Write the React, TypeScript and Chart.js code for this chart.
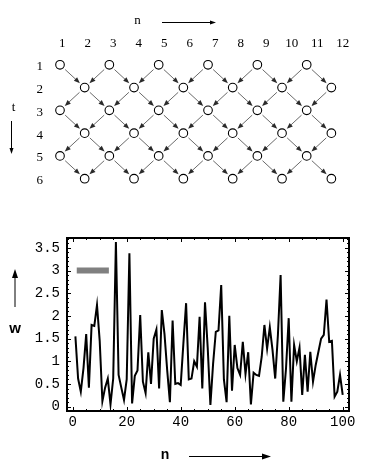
import React, { useEffect, useRef } from "react";
import { Chart, registerables } from "chart.js";

Chart.register(...registerables);

// ---------- Top lattice diagram data ----------
const colLabels = [1, 2, 3, 4, 5, 6, 7, 8, 9, 10, 11, 12];
const rowLabels = [1, 2, 3, 4, 5, 6];
// columns occupied by a node in each row t = 1..6
const latticeRows: number[][] = [
  [1, 3, 5, 7, 9, 11],
  [2, 4, 6, 8, 10, 12],
  [1, 3, 5, 7, 9, 11],
  [2, 4, 6, 8, 10, 12],
  [1, 3, 5, 7, 9, 11],
  [2, 4, 6, 8, 10, 12],
];

// ---------- Bottom series data ----------
const startN = 1;
const wValues = [
  1.55, 0.62, 0.33, 0.85, 1.6, 0.42, 1.8, 1.78, 2.24, 1.45,
  0.12, 0.42, 0.62, 0.05, 0.62, 3.63, 0.7, 0.42, 0.15, 0.6,
  3.38, 0.07, 0.68, 0.8, 2.02, 0.55, 0.3, 1.2, 0.5, 1.5,
  1.7, 0.4, 2.13, 1.6, 0.8, 0.1, 1.9, 0.5, 0.52, 0.48,
  1.4, 2.28, 0.6, 0.62, 1.0, 0.88, 1.98, 0.4, 2.3, 1.3,
  0.04, 0.95, 1.65, 1.68, 2.68, 0.6, 0.1, 2.0, 0.35, 1.36,
  0.85, 0.7, 1.43, 0.72, 1.2, 0.05, 0.75, 0.7, 0.68, 1.1,
  1.8, 1.28, 1.75, 1.25, 0.62, 1.58, 2.9, 0.11, 0.84, 1.95,
  0.11, 1.36, 1.0, 1.3, 0.26, 1.14, 0.33, 1.21, 0.55, 0.92,
  1.21, 1.5, 1.58, 2.36, 1.43, 1.45, 0.22, 0.33, 0.7, 0.26,
];
const xTicks = [0, 20, 40, 60, 80, 100];
const yTicks = [0, 0.5, 1, 1.5, 2, 2.5, 3, 3.5];
const barX = [1.5, 13.4];
const barY = [3, 3];

function drawArrow(
  ctx: CanvasRenderingContext2D,
  x1: number, y1: number, x2: number, y2: number,
  headLen: number, headW: number, lineColor: string, headColor: string, lineWidth: number
) {
  const ang = Math.atan2(y2 - y1, x2 - x1);
  const c = Math.cos(ang), s = Math.sin(ang);
  const bx = x2 - headLen * c, by = y2 - headLen * s;
  ctx.strokeStyle = lineColor;
  ctx.lineWidth = lineWidth;
  ctx.beginPath();
  ctx.moveTo(x1, y1);
  ctx.lineTo(bx + c * 1, by + s * 1);
  ctx.stroke();
  ctx.fillStyle = headColor;
  ctx.beginPath();
  ctx.moveTo(x2, y2);
  ctx.lineTo(bx + headW * s, by - headW * c);
  ctx.lineTo(bx - headW * s, by + headW * c);
  ctx.closePath();
  ctx.fill();
}

const TOP_W = 385, TOP_H = 205;
const BOT_W = 385, BOT_H = 259;

export default function App() {
  const topRef = useRef<HTMLCanvasElement>(null);
  const botRef = useRef<HTMLCanvasElement>(null);

  useEffect(() => {
    const nodes = latticeRows.flatMap((cols, ri) => cols.map((c) => ({ x: c, y: rowLabels[ri] })));
    const edges: { from: { x: number; y: number }; to: { x: number; y: number } }[] = [];
    nodes.forEach((a) => {
      nodes.forEach((b) => {
        if (b.y === a.y + 1 && Math.abs(b.x - a.x) === 1) edges.push({ from: a, to: b });
      });
    });

    const edgePlugin = {
      id: "edges",
      beforeDatasetsDraw(chart: any) {
        const ctx = chart.ctx as CanvasRenderingContext2D;
        const xs = chart.scales.x, ys = chart.scales.y;
        ctx.save();
        edges.forEach((e) => {
          const x1 = xs.getPixelForValue(e.from.x), y1 = ys.getPixelForValue(e.from.y);
          const x2 = xs.getPixelForValue(e.to.x), y2 = ys.getPixelForValue(e.to.y);
          const d = Math.hypot(x2 - x1, y2 - y1);
          const ux = (x2 - x1) / d, uy = (y2 - y1) / d;
          drawArrow(ctx, x1 + ux * 7, y1 + uy * 7, x2 - ux * 6.5, y2 - uy * 6.5, 6, 2.4, "#6a6a6a", "#2a2a2a", 1);
        });
        ctx.restore();
      },
      afterDraw(chart: any) {
        const ctx = chart.ctx as CanvasRenderingContext2D;
        ctx.save();
        ctx.fillStyle = "#000";
        ctx.font = "13px 'Liberation Serif'";
        ctx.textAlign = "center";
        ctx.textBaseline = "middle";
        ctx.fillText("n", 137.5, 21);
        ctx.fillText("t", 13.5, 108);
        drawArrow(ctx, 162, 22.5, 216, 22.5, 6, 2, "#000", "#000", 1);
        drawArrow(ctx, 11.5, 121, 11.5, 154, 6, 2, "#000", "#000", 1);
        ctx.restore();
      },
    };

    const serif = { family: "'Liberation Serif', serif", size: 13 };

    const top = new Chart(topRef.current!, {
      type: "scatter",
      data: {
        datasets: [
          {
            data: nodes,
            pointRadius: 4.3,
            pointHoverRadius: 4.3,
            pointBackgroundColor: "#ffffff",
            pointBorderColor: "#000000",
            pointBorderWidth: 1.1,
            showLine: false,
          },
        ],
      },
      options: {
        animation: false,
        responsive: false,
        events: [],
        layout: { padding: { left: 0, top: 0, right: 15, bottom: 5 } },
        plugins: { legend: { display: false }, tooltip: { enabled: false } },
        scales: {
          x: { type: "linear", display: false, min: 0.5946, max: 13.566 },
          xt: {
            type: "linear",
            axis: "x",
            position: "top",
            min: 0.517,
            max: 13.071,
            grid: { display: false, drawTicks: false },
            border: { display: false },
            ticks: { font: serif, color: "#000", padding: 1, maxRotation: 0, autoSkip: false, callback: (v: any) => String(v) },
            afterBuildTicks: (s: any) => { s.ticks = colLabels.map((v) => ({ value: v })); },
            afterFit: (s: any) => { s.height = 52; },
          },
          y: {
            type: "linear",
            position: "left",
            reverse: true,
            min: 0.4385,
            max: 6.504,
            grid: { display: false, drawTicks: false },
            border: { display: false },
            ticks: { font: serif, color: "#000", padding: 7, labelOffset: 2, autoSkip: false, callback: (v: any) => String(v) },
            afterBuildTicks: (s: any) => { s.ticks = rowLabels.map((v) => ({ value: v })); },
            afterFit: (s: any) => { s.width = 50; },
          },
        },
      } as any,
      plugins: [edgePlugin],
    });

    const framePlugin = {
      id: "frame",
      afterDatasetsDraw(chart: any) {
        const ctx = chart.ctx as CanvasRenderingContext2D;
        const a = chart.chartArea;
        const xs = chart.scales.x, ys = chart.scales.y;
        ctx.save();
        ctx.strokeStyle = "#000";
        ctx.lineWidth = 1;
        // minor / major ticks inside frame
        for (let v = 0; v <= 100; v += 5) {
          const px = Math.round(xs.getPixelForValue(v)) + 0.5;
          const len = v % 20 === 0 ? 4 : 2;
          ctx.beginPath();
          ctx.moveTo(px, a.bottom); ctx.lineTo(px, a.bottom - len);
          ctx.moveTo(px, a.top); ctx.lineTo(px, a.top + len);
          ctx.stroke();
        }
        for (let k = 0; k <= 37; k++) {
          const v = k / 10;
          const py = Math.round(ys.getPixelForValue(v)) + 0.5;
          const len = k % 5 === 0 ? 4 : 2;
          ctx.beginPath();
          ctx.moveTo(a.left, py); ctx.lineTo(a.left + len, py);
          ctx.moveTo(a.right, py); ctx.lineTo(a.right - len, py);
          ctx.stroke();
        }
        ctx.lineWidth = 2;
        ctx.strokeRect(a.left, a.top, a.right - a.left, a.bottom - a.top);
        ctx.restore();
      },
      afterDraw(chart: any) {
        const ctx = chart.ctx as CanvasRenderingContext2D;
        ctx.save();
        ctx.fillStyle = "#000";
        ctx.font = "bold 15px 'Liberation Sans', sans-serif";
        ctx.textAlign = "center";
        ctx.textBaseline = "middle";
        ctx.fillText("w", 15, 124);
        ctx.font = "bold 14px 'Liberation Sans', sans-serif";
        ctx.fillText("n", 165, 250);
        drawArrow(ctx, 15, 102, 15, 64, 9, 3, "#000", "#000", 1);
        drawArrow(ctx, 189, 251.5, 271, 251.5, 9, 3, "#000", "#000", 1);
        ctx.restore();
      },
    };

    const mono = { family: "'Liberation Mono', monospace", size: 14 };

    const bot = new Chart(botRef.current!, {
      type: "line",
      data: {
        datasets: [
          {
            data: wValues.map((w, i) => ({ x: startN + i, y: w })),
            borderColor: "#000000",
            borderWidth: 2,
            pointRadius: 0,
            tension: 0,
            fill: false,
          },
          {
            data: barX.map((x, i) => ({ x, y: barY[i] })),
            borderColor: "#808080",
            borderWidth: 6,
            borderCapStyle: "butt",
            pointRadius: 0,
            fill: false,
          },
        ],
      },
      options: {
        animation: false,
        responsive: false,
        events: [],
        layout: { padding: { left: 0, top: 33, right: 36, bottom: 0 } },
        plugins: { legend: { display: false }, tooltip: { enabled: false } },
        scales: {
          x: {
            type: "linear",
            min: -2.11,
            max: 102.33,
            grid: { display: false, drawTicks: false },
            border: { display: false },
            ticks: { font: mono, color: "#000", padding: 3, maxRotation: 0, autoSkip: false, callback: (v: any) => String(v) },
            afterBuildTicks: (s: any) => { s.ticks = xTicks.map((v) => ({ value: v })); },
            afterFit: (s: any) => { s.height = 53; },
          },
          y: {
            type: "linear",
            min: -0.095,
            max: 3.716,
            grid: { display: false, drawTicks: false },
            border: { display: false },
            ticks: { font: mono, color: "#000", padding: 7, autoSkip: false, callback: (v: any) => String(v) },
            afterBuildTicks: (s: any) => { s.ticks = yTicks.map((v) => ({ value: v })); },
            afterFit: (s: any) => { s.width = 67; },
          },
        },
      } as any,
      plugins: [framePlugin],
    });

    return () => {
      top.destroy();
      bot.destroy();
    };
  }, []);

  return (
    <div style={{ position: "absolute", left: 0, top: 0, width: 385, height: 464, background: "#fff" }}>
      <canvas
        ref={topRef}
        width={TOP_W}
        height={TOP_H}
        style={{ position: "absolute", left: 0, top: 0, width: TOP_W, height: TOP_H }}
      />
      <canvas
        ref={botRef}
        width={BOT_W}
        height={BOT_H}
        style={{ position: "absolute", left: 0, top: TOP_H, width: BOT_W, height: BOT_H }}
      />
    </div>
  );
}
